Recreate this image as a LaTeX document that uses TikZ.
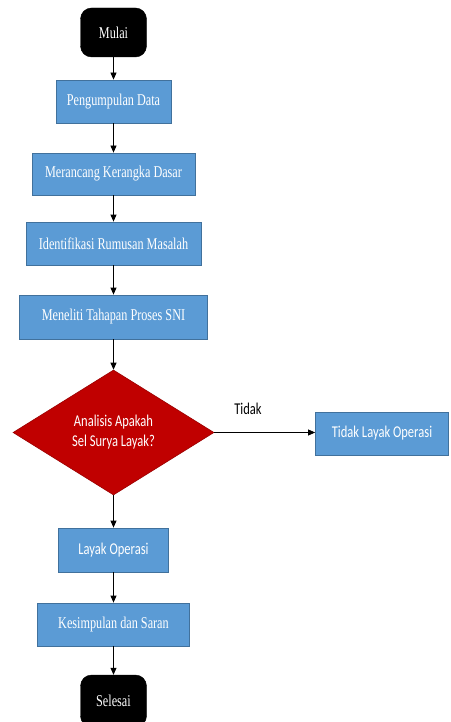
\documentclass[tikz,border=0pt]{standalone}
\usepackage{fontspec}
\setmainfont[FakeStretch=0.74]{Liberation Serif}
\newfontfamily\calib[FakeStretch=0.76]{Carlito}
\usetikzlibrary{arrows.meta,shapes.geometric}
\definecolor{boxblue}{HTML}{5B9BD5}
\definecolor{boxedge}{HTML}{41719C}
\definecolor{dred}{HTML}{C00000}
\tikzset{
  procbox/.style={draw=boxedge, line width=0.8pt, fill=boxblue, text=white, inner sep=0pt, font=\fontsize{16.5}{19}\selectfont},
  term/.style={draw=black, fill=black, text=white, rounded corners=11pt, minimum width=66pt, inner sep=0pt, font=\fontsize{16.5}{19}\selectfont},
  decide/.style={diamond, draw=dred!80!black, line width=0.6pt, fill=dred, text=white, inner sep=0pt, minimum width=201pt, minimum height=125pt, aspect=1.6},
  flow/.style={draw=black, line width=0.8pt, -{Triangle[width=6pt,length=7pt]}},
  sanstxt/.style={font=\calib\fontsize{16.5}{20}\selectfont}
}
\begin{document}
\begin{tikzpicture}[x=1pt,y=-1pt]
\useasboundingbox (0,0) rectangle (450,722);
\node[term, minimum height=49pt] (mulai) at (113.5,32.5) {Mulai};
\node[procbox, minimum width=115pt, minimum height=43pt] (p1) at (113.5,101.5) {Pengumpulan Data};
\node[procbox, minimum width=163pt, minimum height=42pt] (p2) at (113.5,174) {Merancang Kerangka Dasar};
\node[procbox, minimum width=175pt, minimum height=43pt] (p3) at (113.5,243.5) {Identifikasi Rumusan Masalah};
\node[procbox, minimum width=188pt, minimum height=44pt] (p4) at (113.5,317) {Meneliti Tahapan Proses SNI};
\node[decide] (d) at (113.5,432.5) {};
\node[text=white, sanstxt, align=center] (dt) at (113.5,432) {Analisis Apakah\\Sel Surya Layak?};
\node[procbox, sanstxt, minimum width=133pt, minimum height=43pt] (tlo) at (382,433.5) {Tidak Layak Operasi};
\node[procbox, sanstxt, minimum width=110pt, minimum height=44pt] (lo) at (113.5,550) {Layak Operasi};
\node[procbox, minimum width=152pt, minimum height=43pt] (ks) at (113.5,624.5) {Kesimpulan dan Saran};
\node[term, minimum height=52pt] (sel) at (113.5,701) {Selesai};
\node[sanstxt] (tidak) at (248,409) {Tidak};
\draw[flow] (mulai) -- (p1);
\draw[flow] (p1) -- (p2);
\draw[flow] (p2) -- (p3);
\draw[flow] (p3) -- (p4);
\draw[flow] (p4) -- (d);
\draw[flow] (d.east) -- (d.east -| tlo.west);
\draw[flow] (d.south) -- (lo);
\draw[flow] (lo) -- (ks);
\draw[flow] (ks) -- (sel);
\end{tikzpicture}
\end{document}
